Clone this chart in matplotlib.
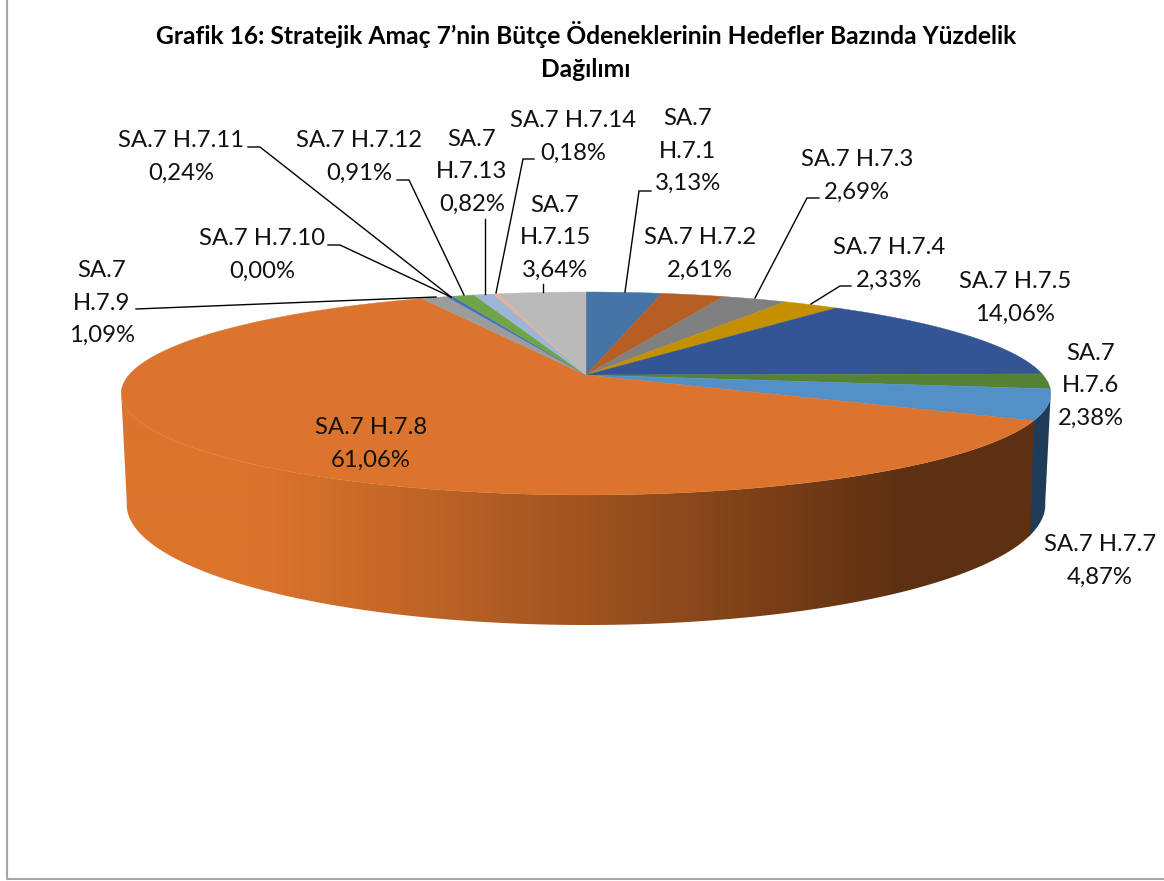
import matplotlib
matplotlib.use("Agg")
import matplotlib.pyplot as plt
import numpy as np
from matplotlib.patches import Polygon

plt.rcParams['font.family'] = ['Lato', 'DejaVu Sans']

# slices, clockwise from 12 o'clock
names = ["SA.7 H.7.1", "SA.7 H.7.2", "SA.7 H.7.3", "SA.7 H.7.4", "SA.7 H.7.5",
         "SA.7 H.7.6", "SA.7 H.7.7", "SA.7 H.7.8", "SA.7 H.7.9", "SA.7 H.7.10",
         "SA.7 H.7.11", "SA.7 H.7.12", "SA.7 H.7.13", "SA.7 H.7.14", "SA.7 H.7.15"]
values = [3.13, 2.61, 2.69, 2.33, 14.06, 2.38, 4.87, 61.06, 1.09, 0.00, 0.24, 0.91, 0.82, 0.18, 3.64]
colors = ["#4475A6", "#B65E24", "#808080", "#C49000", "#335593", "#568235", "#5390C8", "#DC742D",
          "#9C9C9C", "#E8C547", "#446FBF", "#6FA547", "#9DB6D8", "#EBAF92", "#BABABA"]

# labels that Excel broke after "SA.7"
wrapped = {"SA.7 H.7.1", "SA.7 H.7.6", "SA.7 H.7.9", "SA.7 H.7.13", "SA.7 H.7.15"}

# label centre in pixels
label_pos = [(688, 151), (700, 254), (857, 176), (889, 264), (1015, 298), (1091, 386), (1100, 561),
             (371, 444), (102, 303), (262, 255), (181, 157), (359, 157), (472, 172), (573, 137), (555, 238)]

# leader lines in pixels, None = label sits next to the slice
leaders = [[(651, 191), (639, 191), (625, 292)], None,
           [(819, 198), (807, 198), (755, 298)],
           [(851, 286), (840, 286), (811, 304)], None, None, None, None,
           [(136, 309), (436, 297)],
           [(328, 245), (340, 245), (451, 297)],
           [(248, 147), (260, 147), (451, 297)],
           [(397, 180), (409, 180), (464, 295)],
           [(485, 219), (485, 294)],
           [(534, 159), (523, 159), (496, 293)],
           [(543, 284), (543, 292)]]


def top_plane(theta):
    x, y = np.sin(theta), np.cos(theta)
    d = 1 + 0.182 * y
    return 586 + 457 * x / d, 375 - 98.1 * y / d


def bottom_plane(theta):
    x, y = np.sin(theta), np.cos(theta)
    d = 1 + 0.2 * y
    return 586 + 450 * x / d, 480.5 - 115.6 * y / d


def side_polygon(a, b):
    t = np.linspace(a, b, 200)
    xt, yt = top_plane(t)
    xb, yb = bottom_plane(t[::-1])
    return np.column_stack([np.r_[xt, xb], np.r_[yt, yb]])


fig = plt.figure(figsize=(11.64, 8.81), dpi=100)
ax = fig.add_axes([0, 0, 1, 1])

edges = np.radians(np.r_[0, np.cumsum(values)] / sum(values) * 360)

# side wall: dark blue piece of H.7.7, then the orange piece with its gradient
ax.add_patch(Polygon(side_polygon(np.radians(100.5), edges[7] + 0.01), fc="#1F3D58", ec="none", zorder=1))
wall = Polygon(side_polygon(edges[7], np.radians(259.5)), fc="none", ec="none", zorder=2)
ax.add_patch(wall)
stops = np.array([[220, 116, 45], [94, 48, 18]]) / 255
ramp = np.clip((np.arange(121, 1036) - 250) / (900 - 250), 0, 1) ** 1.1
grad = stops[0] + (stops[1] - stops[0]) * ramp[:, None]
im = ax.imshow(grad[None, :, :], extent=(121, 1036, 640, 380), aspect='auto', zorder=2, interpolation='bilinear')
im.set_clip_path(wall)

# top face
for i in range(len(values)):
    if values[i] == 0:
        continue
    t = np.linspace(edges[i], edges[i + 1], max(int(values[i] * 8), 4))
    xs, ys = top_plane(t)
    ax.add_patch(Polygon(np.column_stack([np.r_[586, xs], np.r_[375, ys]]),
                         fc=colors[i], ec=colors[i], lw=0.3, zorder=3))

for line in leaders:
    if line:
        ax.plot(*zip(*line), color="black", lw=1.0, zorder=4, solid_joinstyle='miter')

for name, val, pos in zip(names, values, label_pos):
    head = name.replace(" ", "\n") if name in wrapped else name
    ax.text(pos[0], pos[1], head + "\n" + f"{val:.2f}".replace(".", ",") + "%", ha='center', va='center',
            fontsize=17.2, color="#111111", linespacing=1.66, zorder=5)

ax.text(586, 51, "Grafik 16: Stratejik Amaç 7’nin Bütçe Ödeneklerinin Hedefler Bazında Yüzdelik\nDağılımı",
        ha='center', va='center', fontsize=17.7, fontweight='bold', color="black", linespacing=1.5)

# chart frame, only left and bottom are inside the crop
ax.plot([7, 7, 1164], [0, 879, 879], color="#A6A6A6", lw=1.5, zorder=6)

ax.set_xlim(0, 1164)
ax.set_ylim(881, 0)
ax.axis('off')
fig.savefig("out.png", dpi=100, facecolor="white")
